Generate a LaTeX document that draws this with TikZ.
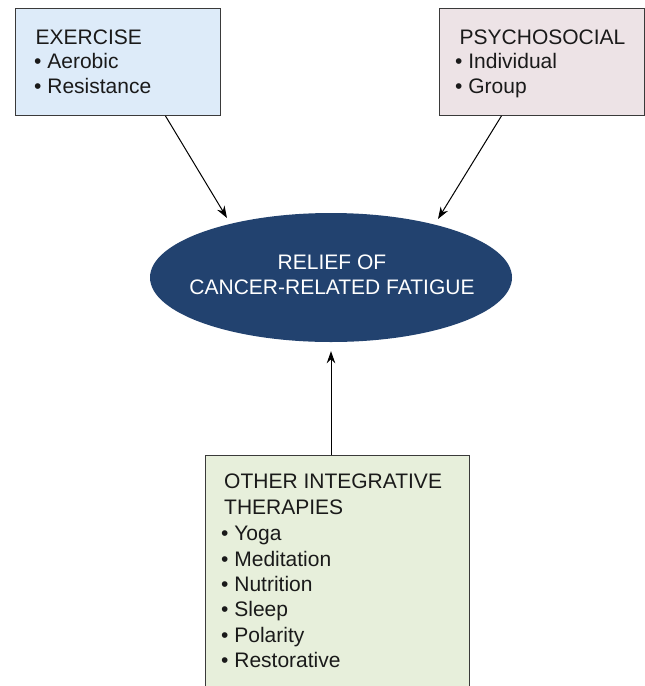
\documentclass[tikz,border=0pt]{standalone}
\usepackage{fontspec}
\setmainfont{Liberation Sans}
\usetikzlibrary{shapes.geometric,arrows.meta,calc}
\definecolor{exfill}{HTML}{DDEBF9}
\definecolor{psfill}{HTML}{EDE3E6}
\definecolor{otfill}{HTML}{E7EFDB}
\definecolor{relfill}{HTML}{22426F}
\definecolor{edge}{HTML}{3A3A3A}
\definecolor{ink}{HTML}{1A1A1A}
\begin{document}
\begin{tikzpicture}[x=1pt,y=-1pt,
  boxstyle/.style={draw=edge,line width=0.9pt,inner sep=0pt,anchor=north west},
  txt/.style={anchor=base west,inner sep=0pt,text=ink,font=\fontsize{21}{24}\selectfont},
  ctxt/.style={anchor=base,inner sep=0pt,text=white,font=\fontsize{21}{24}\selectfont},
  arr/.style={draw=black,line width=1pt,-{Stealth[length=12pt,width=8.5pt]}}]
\useasboundingbox (0,0) rectangle (645,686);
% boxes
\node[boxstyle,fill=exfill,minimum width=205pt,minimum height=107pt] (ex) at (15,8) {};
\node[boxstyle,fill=psfill,minimum width=205pt,minimum height=107pt] (ps) at (439,8) {};
\node[boxstyle,fill=otfill,minimum width=264pt,minimum height=260pt] (ot) at (205,455) {};
\node[ellipse,fill=relfill,minimum width=362pt,minimum height=129pt,inner sep=0pt] (rel) at (331,277.5) {};
% texts
\node[txt] (ex1) at (35.5,44) {EXERCISE};
\node[txt] (ex2) at (34,68.5) {\textbullet\ Aerobic};
\node[txt] (ex3) at (34,93.5) {\textbullet\ Resistance};
\node[txt] (ps1) at (459.5,44) {PSYCHOSOCIAL};
\node[txt] (ps2) at (455,68.5) {\textbullet\ Individual};
\node[txt] (ps3) at (455,93.5) {\textbullet\ Group};
\node[txt] (ot1) at (224,488.5) {OTHER INTEGRATIVE};
\node[txt] (ot2) at (224,514) {THERAPIES};
\node[txt] (ot3) at (221,540) {\textbullet\ Yoga};
\node[txt] (ot4) at (221,566) {\textbullet\ Meditation};
\node[txt] (ot5) at (221,591.5) {\textbullet\ Nutrition};
\node[txt] (ot6) at (221,616.5) {\textbullet\ Sleep};
\node[txt] (ot7) at (221,642) {\textbullet\ Polarity};
\node[txt] (ot8) at (221,667) {\textbullet\ Restorative};
\node[ctxt] (rel1) at (332,269) {RELIEF OF};
\node[ctxt] (rel2) at (332,294) {CANCER-RELATED FATIGUE};
% connectors
\draw[arr] ([xshift=47.5pt]ex.south) -- ($(rel.center)+(-104,-59.5)$);
\draw[arr] ([xshift=-40.5pt]ps.south) -- ($(rel.center)+(107,-58.5)$);
\draw[arr] (rel.south |- ot.north) -- ([yshift=-9pt]rel.south);
\end{tikzpicture}
\end{document}
